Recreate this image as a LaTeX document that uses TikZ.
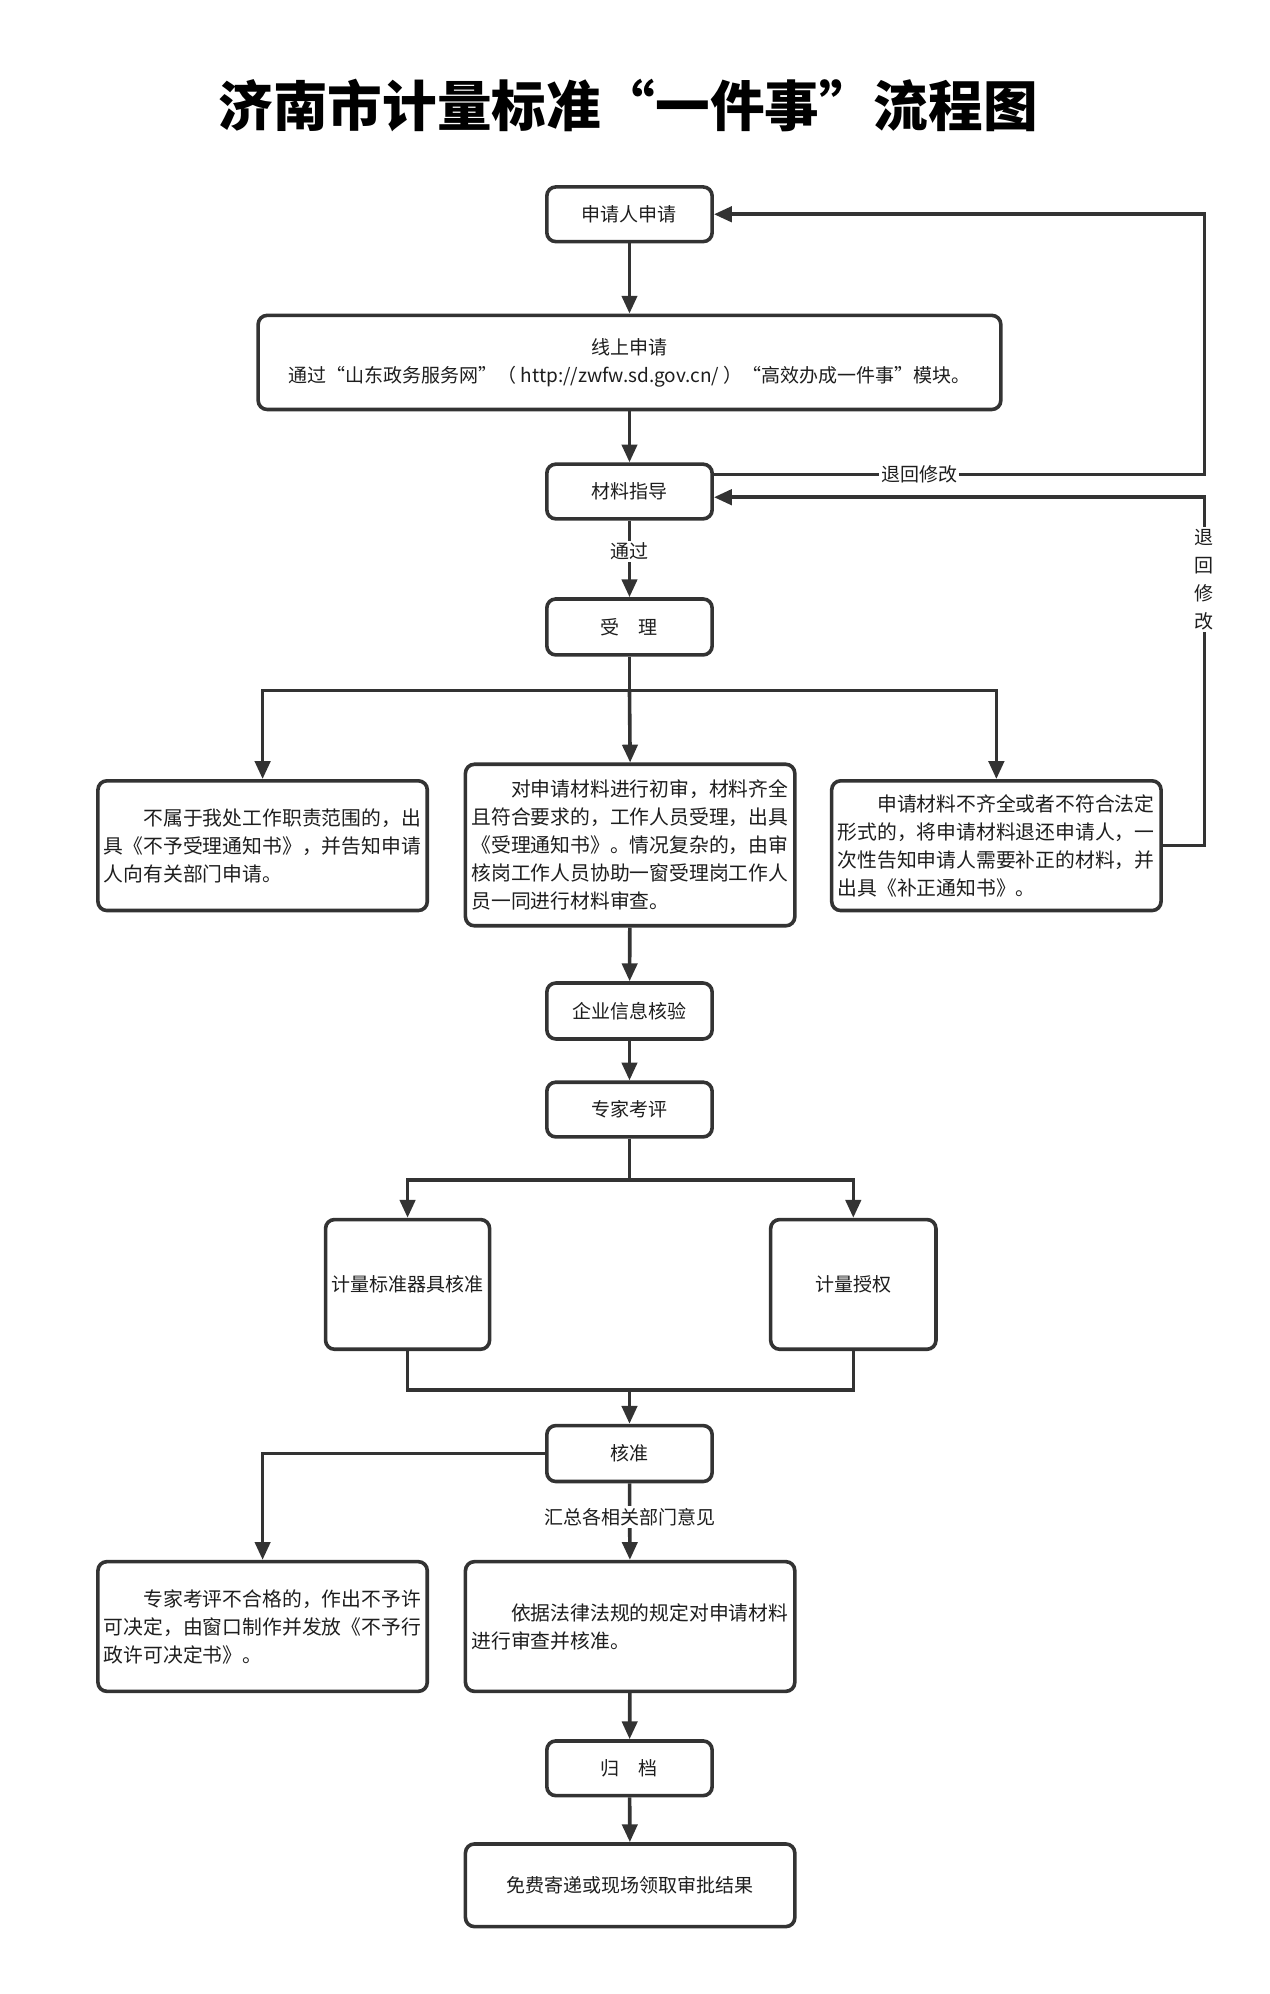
\documentclass[tikz,border=0pt]{standalone}
\usepackage{fontspec}
\setmainfont{Noto Sans CJK SC}
\newfontfamily\titlefont[CharacterWidth=Full]{Noto Sans CJK SC}
\usetikzlibrary{arrows.meta,calc}
\definecolor{lc}{HTML}{333333}
\definecolor{tc}{HTML}{1E1E1E}
\def\u{0.63575pt}
\begin{document}
\begin{tikzpicture}[x=0.63575pt,y=-0.63575pt,
  box/.style={draw=lc,line width=1.8pt,rounded corners=4.5pt,fill=white,text=tc,
    font=\fontsize{9.5pt}{14pt}\selectfont,inner sep=2pt,align=center},
  sbox/.style={box,minimum width=130*\u,minimum height=43*\u},
  pbox/.style={box,minimum width=259*\u,text width=158.6pt,align=left,
    font=\fontsize{9.9pt}{14pt}\selectfont},
  ln/.style={draw=lc,line width=1.8pt},
  arr/.style={ln,-{Triangle[width=7.6pt,length=8.9pt]}},
  lbl/.style={fill=white,text=tc,font=\fontsize{9.5pt}{14pt}\selectfont,inner sep=1pt,align=center}
]
\fill[white] (0,0) rectangle (998,1568);
\useasboundingbox (0,0) rectangle (998,1568);

% title
\node[text=black,font=\titlefont\bfseries\fontsize{27.3pt}{30pt}\selectfont] (title) at (494,83)
  {济南市计量标准“一件事”流程图};

% nodes
\node[sbox] (A) at (495,168.5) {申请人申请};
\node[box,minimum width=584*\u,minimum height=74*\u] (B) at (495,285)
  {线上申请\\通过“山东政务服务网”（ http://zwfw.sd.gov.cn/ ）“高效办成一件事”模块。};
\node[sbox] (C) at (495,386.5) {材料指导};
\node[sbox,minimum height=44*\u] (D) at (495,493) {受\hspace{1em}理};
\node[pbox,minimum height=102*\u] (E1) at (206.5,665)
  {\hspace*{2em}不属于我处工作职责范围的，出\\具《不予受理通知书》，并告知申请\\人向有关部门申请。};
\node[pbox,minimum height=127*\u] (E2) at (495.5,664.5)
  {\hspace*{2em}对申请材料进行初审，材料齐全\\且符合要求的，工作人员受理，出具\\《受理通知书》。情况复杂的，由审\\核岗工作人员协助一窗受理岗工作人\\员一同进行材料审查。};
\node[pbox,minimum height=102*\u] (E3) at (783.5,665)
  {\hspace*{2em}申请材料不齐全或者不符合法定\\形式的，将申请材料退还申请人，一\\次性告知申请人需要补正的材料，并\\出具《补正通知书》。};
\node[sbox,minimum height=44*\u] (F) at (495,795) {企业信息核验};
\node[sbox] (G) at (495,872.5) {专家考评};
\node[box,minimum width=129*\u,minimum height=102*\u] (H1) at (320.5,1010) {计量标准器具核准};
\node[box,minimum width=130*\u,minimum height=102*\u] (H2) at (671,1010) {计量授权};
\node[sbox,minimum height=44*\u] (I) at (495,1143) {核准};
\node[pbox,minimum height=102*\u] (J1) at (206.5,1279)
  {\hspace*{2em}专家考评不合格的，作出不予许\\可决定，由窗口制作并发放《不予行\\政许可决定书》。};
\node[pbox,minimum height=102*\u] (J2) at (495.5,1279)
  {\hspace*{2em}依据法律法规的规定对申请材料\\进行审查并核准。};
\node[sbox] (K) at (495,1390.5) {归\hspace{1em}档};
\node[box,minimum width=259*\u,minimum height=65*\u] (L) at (495.5,1482.5) {免费寄递或现场领取审批结果};

% coordinates
\coordinate (d1) at (495,543);
\coordinate (g1) at (495,928);
\coordinate (m1) at (320.5,1093);
\coordinate (m2) at (671,1093);
\coordinate (m0) at (495,1093);
\coordinate (rA) at (947,373);
\coordinate (rB) at (947,665);

% connectors
\draw[arr] (A) -- (B);
\draw[arr] (B) -- (C);
\draw[arr] (C) -- node[lbl,pos=0.4] (t1) {通过} (D);
\draw[ln] (D.south) -- (d1);
\draw[arr] (d1) -- (E2.north);
\draw[arr] (d1) -| (E1.north);
\draw[arr] (d1) -| (E3.north);

\draw[arr] (C.east |- 0,373) -- node[lbl,pos=0.419] (r1) {退回修改} (rA) |- (A.east);
\draw[arr] (E3.east) -- (rB) |- (C.east |- 0,391);
\node[lbl] (r2) at (947,456) {退\\回\\修\\改};

\draw[arr] (E2) -- (F);
\draw[arr] (F) -- (G);
\draw[ln] (G.south) -- (g1);
\draw[arr] (g1) -| (H1.north);
\draw[arr] (g1) -| (H2.north);
\draw[ln] (H1.south) -- (m1) -- (m2) -- (H2.south);
\draw[arr] (m0) -- (I.north);
\draw[arr] (I.west) -| (J1.north);
\draw[arr] (I) -- node[lbl,pos=0.44] (t2) {汇总各相关部门意见} (J2);
\draw[arr] (J2) -- (K);
\draw[arr] (K) -- (L);
\end{tikzpicture}
\end{document}
